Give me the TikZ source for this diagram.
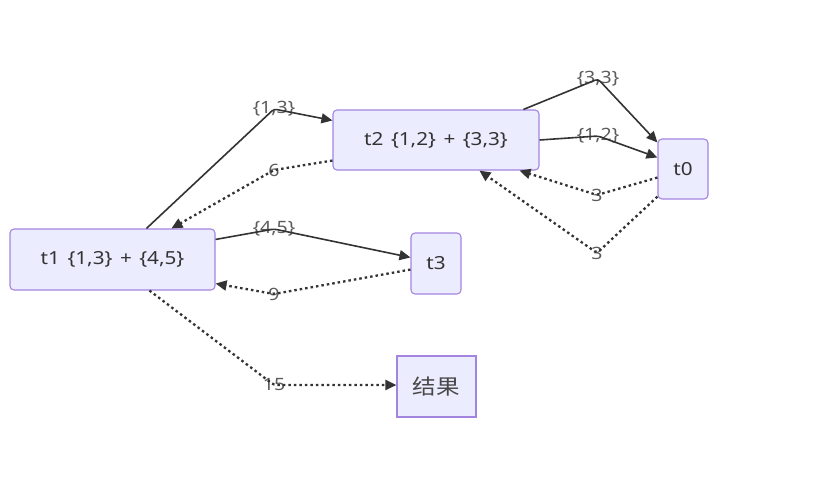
\documentclass[tikz,border=0pt]{standalone}
\usepackage{fontspec}
\setmainfont{Noto Sans}[FakeStretch=1.15, WordSpace=1.4]
\newfontfamily\cjk{Noto Sans CJK SC}[FakeStretch=1.12]
\usetikzlibrary{arrows.meta}
\definecolor{nfill}{HTML}{ECECFF}
\definecolor{nline}{HTML}{9370DB}
\definecolor{ink}{HTML}{333333}
\tikzset{
  box/.style={draw=nline!85, fill=nfill, line width=1.1pt, rounded corners=4pt, text=ink, font=\fontsize{18}{21}\selectfont, inner sep=0pt},
  sqbox/.style={box, rounded corners=0pt},
  lbl/.style={text=ink!80, font=\fontsize{17}{20}\selectfont, inner sep=0pt},
  edge/.style={draw=ink, line width=1.6pt, -{Triangle[length=11pt,width=10pt]}, rounded corners=3pt},
  dotedge/.style={edge, line width=2.3pt, dash pattern=on 2.5pt off 3pt}
}
\begin{document}
\begin{tikzpicture}[x=1pt,y=-1pt]
\useasboundingbox (0,0) rectangle (831,496);
\node[box, minimum width=205pt, minimum height=61pt] (t1) at (112.5,259.5) {t1 \{1,3\} + \{4,5\}};
\node[box, minimum width=206pt, minimum height=60pt] (t2) at (436,140) {t2 \{1,2\} + \{3,3\}};
\node[box, minimum width=50pt, minimum height=60pt] (t0) at (683,169) {t0};
\node[box, minimum width=50pt, minimum height=61pt] (t3) at (436,263.5) {t3};
\node[sqbox, minimum width=79pt, minimum height=61pt] (res) at (436.5,386.5) {\cjk\fontsize{21}{24}\selectfont\color{ink!90}结果};

\node[lbl] (L13) at (274,109) {\{1,3\}};
\node[lbl] (L6) at (274,170) {6};
\node[lbl] (L45) at (274,229) {\{4,5\}};
\node[lbl] (L9) at (274,294) {9};
\node[lbl] (L15) at (274,385) {15};
\node[lbl] (L33) at (598,79) {\{3,3\}};
\node[lbl] (L12) at (598,136) {\{1,2\}};
\node[lbl] (L3a) at (597,195) {3};
\node[lbl] (L3b) at (597,253) {3};

\draw[edge] ([xshift=137pt]t1.north west) -- (L13.center) -- ([yshift=-11pt]t2.north west);
\draw[dotedge] ([yshift=10pt]t2.south west) -- (L6.center) -- ([xshift=162pt]t1.north west);
\draw[edge] ([yshift=-11pt]t1.north east) -- (L45.center) -- ([yshift=-25pt]t3.north west);
\draw[dotedge] ([yshift=25pt]t3.south west) -- (L9.center) -- ([yshift=7pt]t1.south east);
\draw[dotedge] ([xshift=140pt]t1.south west) -- (L15.center) -- ([yshift=1.5pt]res.west);
\draw[edge] ([xshift=191pt]t2.north west) -- (L33.center) -- ([yshift=-4pt]t0.north west);
\draw[edge] (t2.east) -- (L12.center) -- ([yshift=-19pt]t0.north west);
\draw[dotedge] ([yshift=22pt]t0.south west) -- (L3a.center) -- ([xshift=187pt]t2.south west);
\draw[dotedge] ([yshift=3pt]t0.south west) -- (L3b.center) -- ([xshift=147pt]t2.south west);
\end{tikzpicture}
\end{document}
